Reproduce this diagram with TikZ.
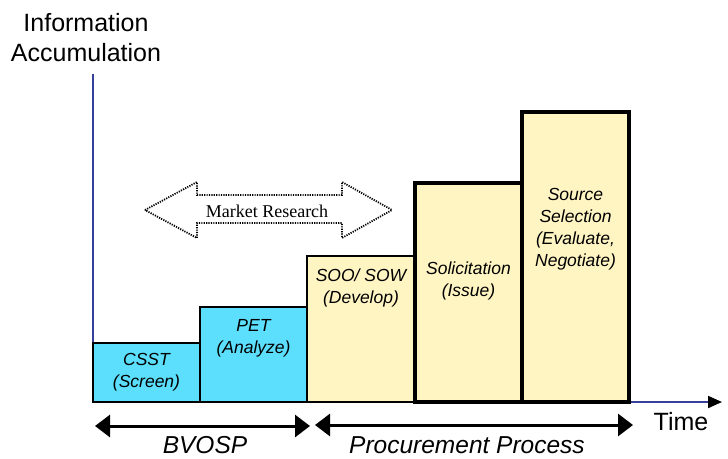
\documentclass[tikz,border=0pt]{standalone}
\usepackage{fontspec}
\setmainfont{Liberation Sans}
\newfontfamily\mrfont{Liberation Serif}
\usetikzlibrary{arrows.meta,positioning}
\definecolor{axisblue}{HTML}{34409A}
\definecolor{bvocyan}{HTML}{5CDFFD}
\definecolor{prcyellow}{HTML}{FFF5C3}

\begin{document}
\begin{tikzpicture}[x=1pt,y=-1pt,
    stage/.style={draw,anchor=south west,inner sep=0pt,outer sep=0pt},
    bvo/.style={stage,fill=bvocyan,line width=2pt},
    prc/.style={stage,fill=prcyellow},
    lbl/.style={font=\fontsize{17.5}{22}\selectfont\itshape,align=center,inner sep=0pt},
    big/.style={font=\fontsize{25}{30}\selectfont,align=center,inner sep=0pt},
    spn/.style={line width=3pt,{Triangle[length=15pt,width=22pt]}-{Triangle[length=15pt,width=22pt]}}]
\useasboundingbox (0,0) rectangle (728,458);

% axes
\coordinate (orig) at (93,402);
\coordinate (ytop) at (93,74);
\coordinate (xend) at (722,402);
\draw[draw=axisblue,line width=2pt,-{Triangle[length=14pt,width=12pt,black]}]
    (ytop) -- (orig) -- (xend);
\node[big,anchor=north] (info) at (86,13) {Information\\Accumulation};
\node[big,anchor=base] (time) at (681,430) {Time};

% stages
\node[bvo,minimum width=107pt,minimum height=59pt] (csst) at (orig) {};
\node[bvo,minimum width=107pt,minimum height=95pt] (pet) at (csst.south east) {};
\node[prc,line width=2.5pt,minimum width=108pt,minimum height=146pt] (soo) at (pet.south east) {};
\node[prc,line width=3.2pt,minimum width=107pt,minimum height=219pt] (sol) at (soo.south east) {};
\node[prc,line width=3.8pt,minimum width=107pt,minimum height=290pt] (src) at (sol.south east) {};

\node[lbl] (csstT) at (csst.center) {CSST\\(Screen)};
\node[lbl,below=12.5pt of pet.north] (petT) {PET\\(Analyze)};
\node[lbl,below=12.5pt of soo.north] (sooT) {SOO/ SOW\\(Develop)};
\node[lbl,below=78.5pt of sol.north] (solT) {Solicitation\\(Issue)};
\node[lbl,below=76.5pt of src.north] (srcT) {Source\\Selection\\(Evaluate,\\Negotiate)};

% market research
\draw[line width=1.8pt,dash pattern=on 1.2pt off 1.2pt]
    (145,210) -- (197,182) -- (197,195) -- (342,195) -- (342,182) -- (392,210)
    -- (342,238) -- (342,223) -- (197,223) -- (197,238) -- cycle;
\node[font=\mrfont\fontsize{18}{20}\selectfont,anchor=base,inner sep=0pt] (mr) at (267,217) {Market Research};

% spans
\coordinate (bL) at (95,426);
\coordinate (bR) at (310,426);
\coordinate (pL) at (315,425);
\coordinate (pR) at (633,425);
\draw[spn] (bL) -- (bR);
\draw[spn] (pL) -- (pR);
\node[big,font=\fontsize{24.5}{30}\selectfont\itshape,anchor=base] (bvosp) at (205,453) {BVOSP};
\node[big,font=\fontsize{24.5}{30}\selectfont\itshape,anchor=base] (proc) at (467,453) {Procurement Process};
\end{tikzpicture}
\end{document}
